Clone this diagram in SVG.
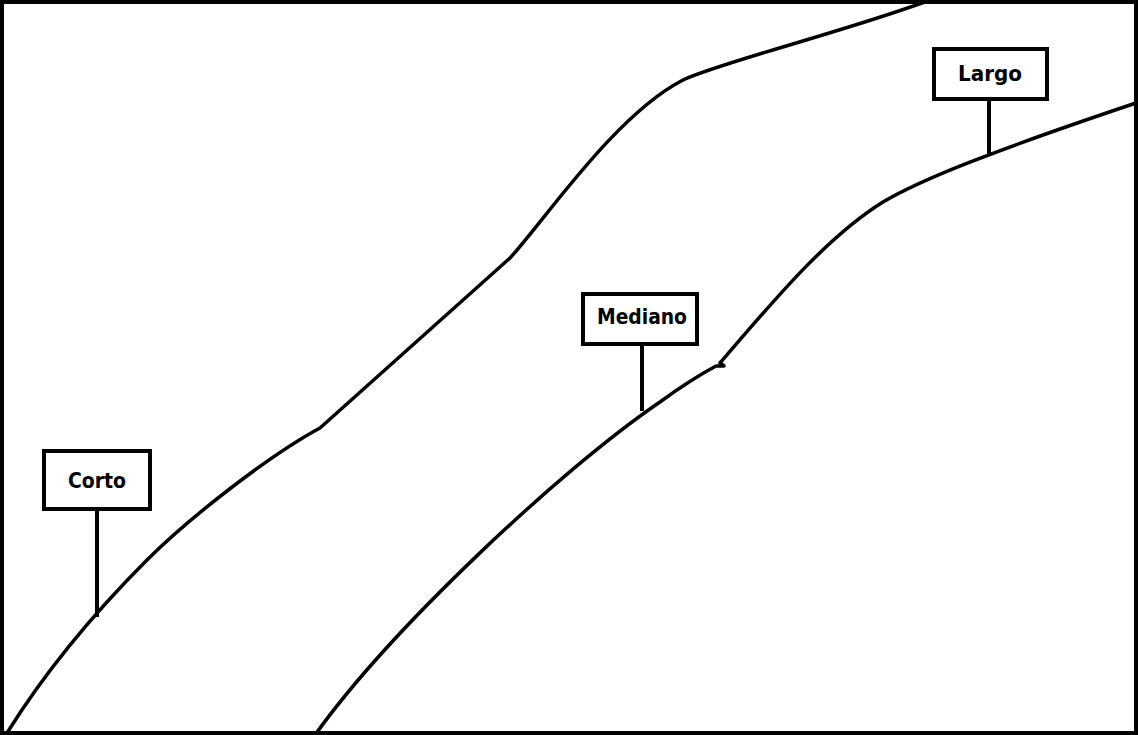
<svg xmlns="http://www.w3.org/2000/svg" width="1138" height="735" viewBox="0 0 1138 735">
<style>
.curve{fill:none;stroke:#000;stroke-width:3.5;stroke-linejoin:round;stroke-linecap:round}
.box{fill:#fff;stroke:#000;stroke-width:4}
.stem{stroke:#000;stroke-width:4}
.lbl{font-family:"DejaVu Sans Condensed","DejaVu Sans","Liberation Sans",sans-serif;font-stretch:condensed;font-weight:bold;font-size:21px;fill:#000;text-anchor:middle}
</style>
<rect x="0" y="0" width="1138" height="735" fill="#fff"/>
<rect x="2" y="2" width="1134" height="731" fill="none" stroke="#000" stroke-width="4"/>
<g id="connectors">
<path class="curve" d="M7,733 C45,672 95,612 147,560 C190,517 270,455 320,428 L510,258 C545,220 615,115 683,80 C715,64 850,30 930,0"/>
<path class="curve" d="M315,735 C390,630 560,470 660,402 Q690,380 716,366 L724,366 L720,363 C770,305 825,238 883,202 C920,180 990,152 1136,103"/>
<line class="stem" x1="97" y1="511" x2="97" y2="617"/>
<line class="stem" x1="642" y1="346" x2="642" y2="411"/>
<line class="stem" x1="989" y1="101" x2="989" y2="154"/>
</g>
<g id="corto">
<rect class="box" x="44" y="451" width="106" height="58"/>
<text class="lbl" x="97" y="488" textLength="58" lengthAdjust="spacingAndGlyphs">Corto</text>
</g>
<g id="mediano">
<rect class="box" x="583" y="294" width="114" height="50"/>
<text class="lbl" x="642" y="324" textLength="90" lengthAdjust="spacingAndGlyphs">Mediano</text>
</g>
<g id="largo">
<rect class="box" x="934" y="49" width="113" height="50"/>
<text class="lbl" x="990" y="81" textLength="64" lengthAdjust="spacingAndGlyphs">Largo</text>
</g>
</svg>
